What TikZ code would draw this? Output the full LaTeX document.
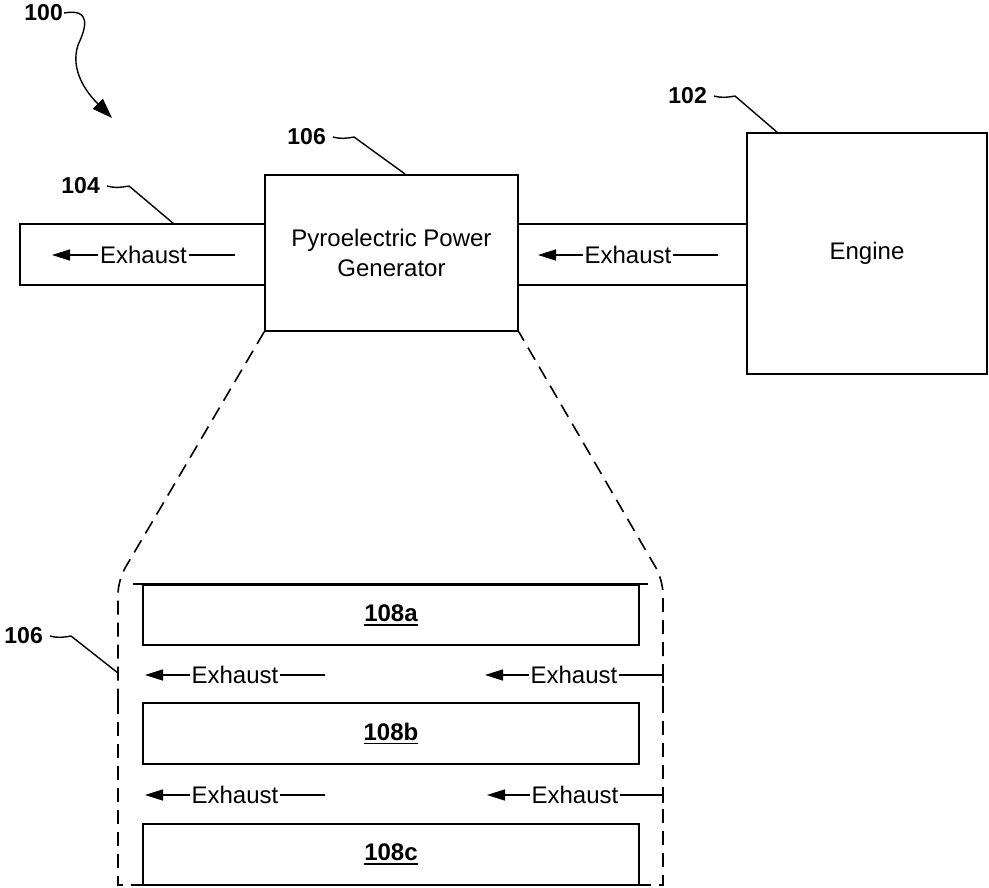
\documentclass[tikz,border=0pt]{standalone}
\usepackage{fontspec}
\setmainfont{Liberation Sans}
\usetikzlibrary{arrows.meta}
\newcommand\refu[1]{\vtop{\hbox{#1}\kern2.5pt\hrule height 1.6pt}}
\begin{document}
\begin{tikzpicture}[x=1pt,y=-1pt,
  box/.style={draw, line width=1.6pt, inner sep=0pt, align=center},
  flow/.style={line width=1.4pt, -{Triangle[length=18pt,width=11pt]}},
  flowtext/.style={fill=white, inner sep=2pt, font=\fontsize{24}{29}\selectfont},
  refl/.style={font=\bfseries\fontsize{23}{28}\selectfont, inner sep=1pt},
  leader/.style={line width=1.4pt},
  encl/.style={line width=1.6pt, dash pattern=on 14pt off 8pt},
  txt/.style={font=\fontsize{24}{30}\selectfont},
  lbl/.style={font=\bfseries\fontsize{24}{29}\selectfont}
]
\useasboundingbox (0,0) rectangle (989,888);

% top row
\node[box, minimum width=245, minimum height=61] (pipeL) at (142.5,254.5) {};
\node[box, minimum width=229, minimum height=61] (pipeM) at (632.5,254.5) {};
\node[box, minimum width=253, minimum height=156, txt] (ppg) at (391.5,253) {Pyroelectric Power\\Generator};
\node[box, minimum width=240, minimum height=241, txt] (engine) at (867,253.5) {Engine};

% exhaust arrows in pipes
\coordinate (pLs) at (235,255);
\coordinate (pLt) at (52,255);
\draw[flow] (pLs) -- node[flowtext]{Exhaust} (pLt);
\coordinate (pMs) at (718,255);
\coordinate (pMt) at (538,255);
\draw[flow] (pMs) -- node[flowtext]{Exhaust} (pMt);

% reference labels
\node[refl, anchor=east] (l100) at (64,13) {100};
\coordinate (t100) at (112,118);
\draw[leader, -{Triangle[length=20pt,width=14pt]}] (l100.east) .. controls (92,8) and (86,28) .. (78,45) .. controls (70,70) and (86,92) .. (t100);

\node[refl, anchor=east] (l104) at (101,186) {104};
\coordinate (e104) at (174,224);
\draw[leader] ([xshift=6pt]l104.east) to[out=-15,in=190] ([xshift=28pt]l104.east) -- (e104);

\node[refl, anchor=east] (l106) at (327,137) {106};
\coordinate (e106) at (405,174);
\draw[leader] ([xshift=6pt]l106.east) to[out=-15,in=190] ([xshift=27pt]l106.east) -- (e106);

\node[refl, anchor=east] (l102) at (708,96) {102};
\coordinate (e102) at (778,133);
\draw[leader] ([xshift=6pt]l102.east) to[out=-15,in=190] ([xshift=27pt]l102.east) -- (e102);

% enclosure (detail view)
\coordinate (encBL) at (118,885);
\coordinate (encBR) at (663,885);
\draw[encl, rounded corners=14pt] (ppg.south west) -- (118,580) -- (118,700);
\draw[encl] (118,700) -- (encBL) -- (encBR) -- (663,700);
\draw[encl, rounded corners=14pt] (663,700) -- (663,580) -- (ppg.south east);

% elements
\node[box, minimum width=496, minimum height=60, lbl] (a) at (391,615) {\refu{108a}};
\node[box, minimum width=496, minimum height=61, lbl] (b) at (391,733.5) {\refu{108b}};
\node[box, minimum width=496, minimum height=61, lbl] (c) at (391,854.5) {\refu{108c}};
\draw[line width=1.6pt] ([xshift=-9pt]a.north west) -- ([xshift=8pt]a.north east);

% exhaust rows
\coordinate (r1s) at (663,683);
\coordinate (r1c) at (663,675);
\coordinate (r1t) at (485,675);
\draw[flow] (r1s) -- (r1c) -- node[flowtext]{Exhaust} (r1t);
\coordinate (l1s) at (325,675);
\coordinate (l1t) at (145,675);
\draw[flow] (l1s) -- node[flowtext]{Exhaust} (l1t);

\coordinate (r2s) at (663,803);
\coordinate (r2c) at (663,795);
\coordinate (r2t) at (487,795);
\draw[flow] (r2s) -- (r2c) -- node[flowtext]{Exhaust} (r2t);
\coordinate (l2s) at (325,795);
\coordinate (l2t) at (145,795);
\draw[flow] (l2s) -- node[flowtext]{Exhaust} (l2t);

\node[refl, anchor=east] (l106b) at (44,636) {106};
\coordinate (e106b) at (118,673);
\draw[leader] ([xshift=6pt]l106b.east) to[out=-15,in=190] ([xshift=27pt]l106b.east) -- (e106b);
\end{tikzpicture}
\end{document}
